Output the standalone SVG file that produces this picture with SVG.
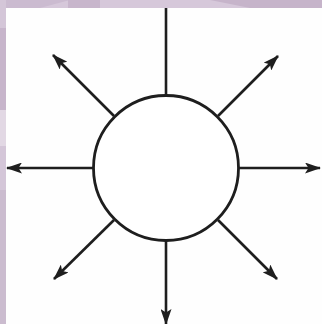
<svg xmlns="http://www.w3.org/2000/svg" width="322" height="324" viewBox="0 0 322 324">
<defs>
<marker id="ah" viewBox="0 0 16 11" refX="15" refY="5.5" markerWidth="16" markerHeight="11" markerUnits="userSpaceOnUse" orient="auto">
<path d="M0,0 L16,5.5 L0,11 L3.5,5.5 Z" fill="#1e1e1e"/>
</marker>
</defs>
<style>
.ray{stroke:#1e1e1e;stroke-width:2.6;fill:none}
.arr{marker-end:url(#ah)}
</style>
<rect width="322" height="324" fill="#fefefe"/>
<g id="watermark">
<rect x="0" y="0" width="322" height="8" fill="#d6c8da"/>
<path d="M0,0 H70 L40,8 H0 Z" fill="#cbbbd0"/>
<rect x="68" y="0" width="32" height="8" fill="#c8b6cc"/>
<path d="M210,0 H322 V8 H250 Z" fill="#c6b4ca"/>
<rect x="0" y="0" width="6" height="324" fill="#d4c6d8"/>
<rect x="0" y="28" width="6" height="82" fill="#c7b5cb"/>
<rect x="0" y="110" width="6" height="36" fill="#e2d8e4"/>
<rect x="0" y="190" width="6" height="134" fill="#cbbccf"/>
</g>
<g id="connectors">
<line class="ray" x1="166" y1="8" x2="166" y2="96"/>
<line class="ray arr" x1="94" y1="168" x2="7" y2="168"/>
<line class="ray arr" x1="238" y1="168" x2="320" y2="168"/>
<line class="ray arr" x1="166" y1="240" x2="166" y2="324"/>
<line class="ray arr" x1="114" y1="116" x2="53" y2="55"/>
<line class="ray arr" x1="218" y1="116" x2="278" y2="56"/>
<line class="ray arr" x1="114" y1="220" x2="54" y2="279"/>
<line class="ray arr" x1="218" y1="220" x2="277" y2="279"/>
</g>
<g id="circle">
<circle cx="166" cy="168" r="72.5" fill="#ffffff" stroke="#1e1e1e" stroke-width="2.8"/>
</g>
</svg>
